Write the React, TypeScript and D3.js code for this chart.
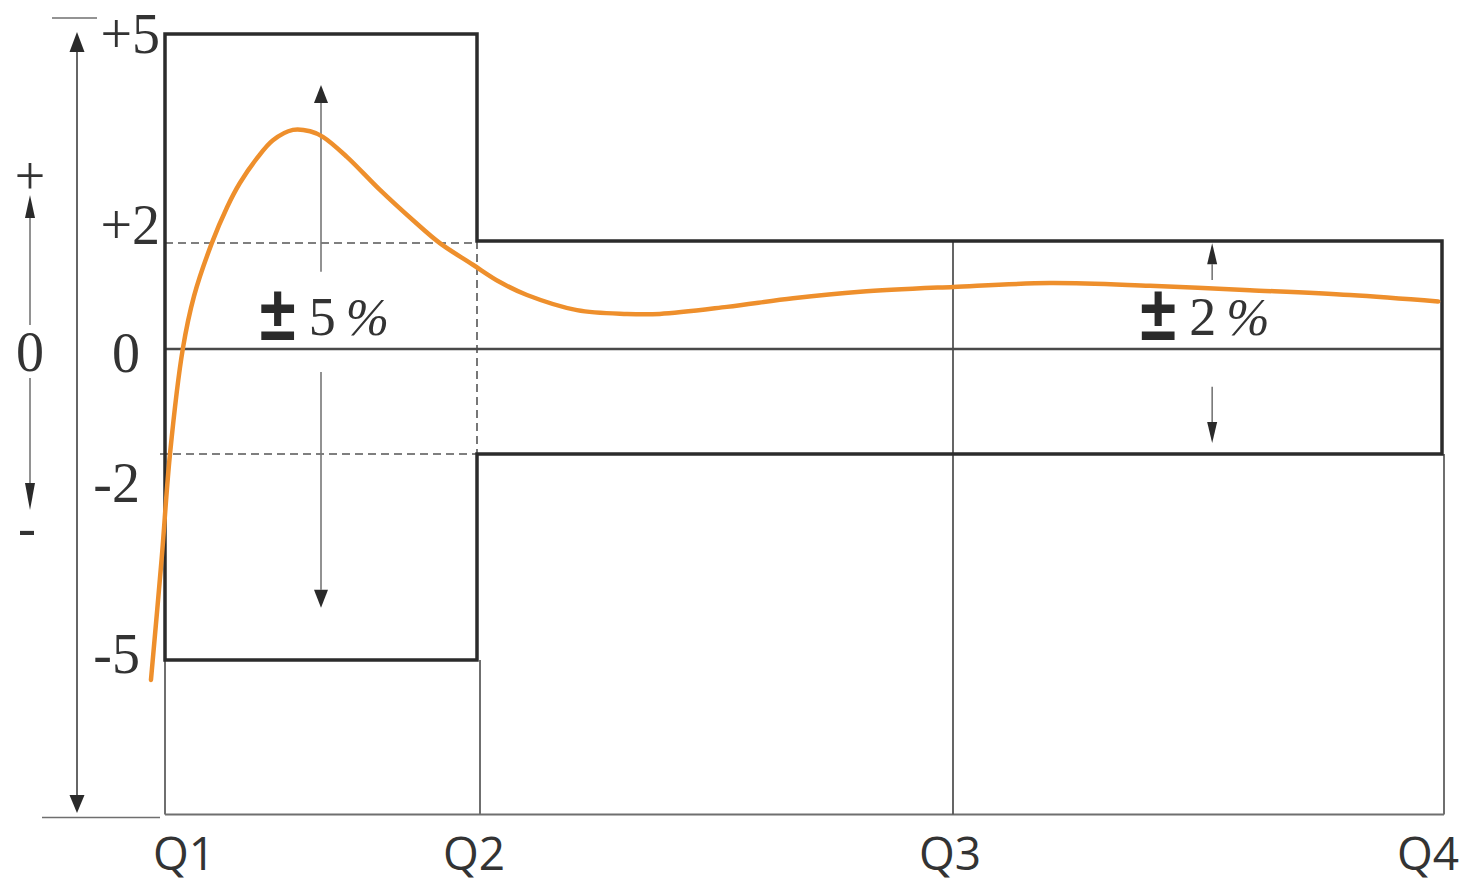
import * as d3 from "d3";

// quarters along the bottom
const quarters = ["Q1", "Q2", "Q3", "Q4"];
const quarterIdx = [1, 2, 3, 4];

// left tick values + their labels
const yTicks = [5, 2, 0, -2, -5];
const tickLabels = ["+5", "+2", "0", "-2", "-5"];

// tolerance bands: Q1-Q2 at ±5 %, Q2-Q4 at ±2 %
const bandStart = [1, 2];
const bandEnd = [2, 4];
const bandLimit = [5, 2];
const bandText = ["5", "2"];

// measured deviation curve (quarter position, %)
const curveQ = [
  0.955, 0.989, 1.016, 1.057, 1.093, 1.15, 1.199, 1.24, 1.295, 1.346, 1.41,
  1.465, 1.506, 1.583, 1.689, 1.795, 1.881, 1.987, 2.048, 2.105, 2.21, 2.315,
  2.384, 2.525, 2.664, 2.805, 3.0, 3.198, 3.403, 3.607, 3.812, 3.992,
];
const curvePct = [
  -5.29, -3.54, -2.0, 0, 0.98, 1.96, 2.49, 2.84, 3.2, 3.46, 3.61,
  3.59, 3.51, 3.22, 2.74, 2.3, 1.96, 1.56, 1.24, 1.0, 0.72, 0.65,
  0.65, 0.78, 0.94, 1.06, 1.15, 1.22, 1.17, 1.09, 1.0, 0.88,
];

const W = 1467;
const H = 889;
const DARK = "#2b2b2b";
const THIN = "#6f6f6f";
const TXT = "#333";
const ORANGE = "#EE8F2C";
const SERIF = "'Liberation Serif', 'Times New Roman', serif";
const SANS = "'Open Sans', 'Noto Sans', sans-serif";

function Arrow({ x, y1, y2, hw, hl, stroke = "#777", sw = 1.6 }: {
  x: number; y1: number; y2: number; hw: number; hl: number; stroke?: string; sw?: number;
}) {
  // y1 = tail, y2 = tip
  const dir = y2 < y1 ? -1 : 1;
  const base = y2 - dir * hl;
  return (
    <g>
      <line x1={x} x2={x} y1={y1} y2={base} stroke={stroke} strokeWidth={sw} />
      <path d={`M${x - hw / 2},${base}L${x + hw / 2},${base}L${x},${y2}Z`} fill="#2a2a2a" />
    </g>
  );
}

export default function App() {
  const x = d3.scaleLinear().domain(quarterIdx).range([165, 477, 953, 1442]);
  const y = d3.scaleLinear().domain([-5, -2, 0, 2, 5]).range([660, 454, 349, 241, 34]);
  const yBottom = y(-7.25);

  // closed step envelope
  const upper: [number, number][] = [];
  const lower: [number, number][] = [];
  bandStart.forEach((s, i) => {
    upper.push([x(s), y(bandLimit[i])], [x(bandEnd[i]), y(bandLimit[i])]);
    lower.push([x(s), y(-bandLimit[i])], [x(bandEnd[i]), y(-bandLimit[i])]);
  });
  const envelope = d3.line()([...upper, ...lower.reverse()]) + "Z";

  const pts = curveQ.map((q, i) => [x(q), y(curvePct[i])] as [number, number]);
  const curve = d3.line().curve(d3.curveCatmullRom.alpha(0.5))(pts) ?? "";

  // annotation geometry per band (quarter x, arrow spans in %)
  const notes = [
    { ax: 1.5, up: [1.43, 4.26], down: [-0.44, -4.24], lx: 1.31, hw: 14, hl: 18 },
    { ax: 3.53, up: [1.28, 1.96], down: [-0.72, -1.79], lx: 3.387, hw: 10, hl: 21 },
  ];

  const x2 = x(2);
  const inner = bandLimit[1];

  return (
    <svg width={W} height={H} style={{ position: "absolute", left: 0, top: 0, background: "#fff" }}>
      {/* frame (thin lines) */}
      <g stroke={THIN} strokeWidth={2} fill="none">
        <line x1={x(1)} x2={x(1)} y1={y(-5)} y2={yBottom} />
        <line x1={x(1)} x2={x(4) + 2} y1={yBottom} y2={yBottom} />
        <line x1={x(4) + 2} x2={x(4) + 2} y1={y(-2)} y2={yBottom} />
        <line x1={x2 + 3} x2={x2 + 3} y1={y(-5)} y2={yBottom} />
        <line x1={x(3)} x2={x(3)} y1={y(2)} y2={yBottom} stroke="#555" strokeWidth={1.8} />
      </g>

      {/* dashed inner limits inside wide band */}
      <g stroke="#555" strokeWidth={1.6} strokeDasharray="8 5" fill="none">
        <line x1={x(1)} x2={x2} y1={y(inner) + 2} y2={y(inner) + 2} />
        <line x1={x(1) - 5} x2={x2} y1={y(-inner)} y2={y(-inner)} />
        <line x1={x2} x2={x2} y1={y(inner)} y2={y(-inner)} />
      </g>

      {/* zero line */}
      <line x1={x(1)} x2={x(4)} y1={y(0)} y2={y(0)} stroke="#4a4a4a" strokeWidth={2.6} />

      {/* envelope */}
      <path d={envelope} fill="none" stroke={DARK} strokeWidth={3.5} />

      {/* band arrows and labels */}
      {notes.map((n, i) => {
        const ax = x(n.ax);
        const lx = x(n.lx);
        return (
          <g key={i}>
            <Arrow x={ax} y1={y(n.up[0])} y2={y(n.up[1])} hw={n.hw} hl={n.hl} />
            <Arrow x={ax} y1={y(n.down[0])} y2={y(n.down[1])} hw={n.hw} hl={n.hl} />
            <text transform={`translate(${lx - 2},340) scale(1.02,1.22)`}
              fontFamily="'Liberation Sans', Arial, sans-serif" fontWeight={700}
              fontSize={64} fill="#2a2a2a">±</text>
            <text x={lx + 47} y={335} fontFamily={SERIF} fontSize={54} fill={TXT}>{bandText[i]}</text>
            <text x={lx + 84} y={335} fontFamily={SERIF} fontStyle="italic" fontSize={52} fill={TXT}>%</text>
          </g>
        );
      })}

      {/* deviation curve */}
      <path d={curve} fill="none" stroke={ORANGE} strokeWidth={4.5} strokeLinecap="round" strokeLinejoin="round" />

      {/* main left axis with double arrow */}
      <line x1={52} x2={97} y1={18} y2={18} stroke={THIN} strokeWidth={1.6} />
      <line x1={42} x2={160} y1={yBottom + 3} y2={yBottom + 3} stroke={THIN} strokeWidth={1.6} />
      <Arrow x={77} y1={420} y2={32} hw={15} hl={20} stroke="#666" sw={2} />
      <Arrow x={77} y1={420} y2={813} hw={15} hl={18} stroke="#666" sw={2} />

      {/* sign indicator */}
      <text x={30} y={176} textAnchor="middle" dominantBaseline="central" fontFamily={SERIF}
        fontSize={54} fill={TXT}>+</text>
      <Arrow x={30} y1={325} y2={195} hw={10} hl={23} />
      <text x={30} y={y(0) + 3} textAnchor="middle" dominantBaseline="central" fontFamily={SERIF}
        fontSize={56} fill={TXT}>0</text>
      <Arrow x={30} y1={378} y2={510} hw={10} hl={27} />
      <text x={27} y={528} textAnchor="middle" dominantBaseline="central" fontFamily={SERIF}
        fontSize={54} fill={TXT}>-</text>

      {/* tick labels */}
      {yTicks.map((v, i) => {
        const off = v === 2 ? -16 : v === -2 ? 29 : v === 0 ? 4 : v === -5 ? -6 : 0;
        return (
          <text key={v} x={v > 0 ? 160 : 140} y={y(v) + off} textAnchor="end" dominantBaseline="central"
            fontFamily={SERIF} fontSize={56} fill={TXT}>{tickLabels[i]}</text>
        );
      })}

      {/* quarter labels */}
      {quarters.map((q, i) => {
        const first = i === 0;
        const last = i === quarters.length - 1;
        return (
          <text key={q} x={first ? x(quarterIdx[i]) - 12 : last ? x(quarterIdx[i]) + 17 : x(quarterIdx[i]) - 3}
            y={870} textAnchor={first ? "start" : last ? "end" : "middle"}
            fontFamily={SANS} fontSize={46} fill={TXT}>{q}</text>
        );
      })}
    </svg>
  );
}
